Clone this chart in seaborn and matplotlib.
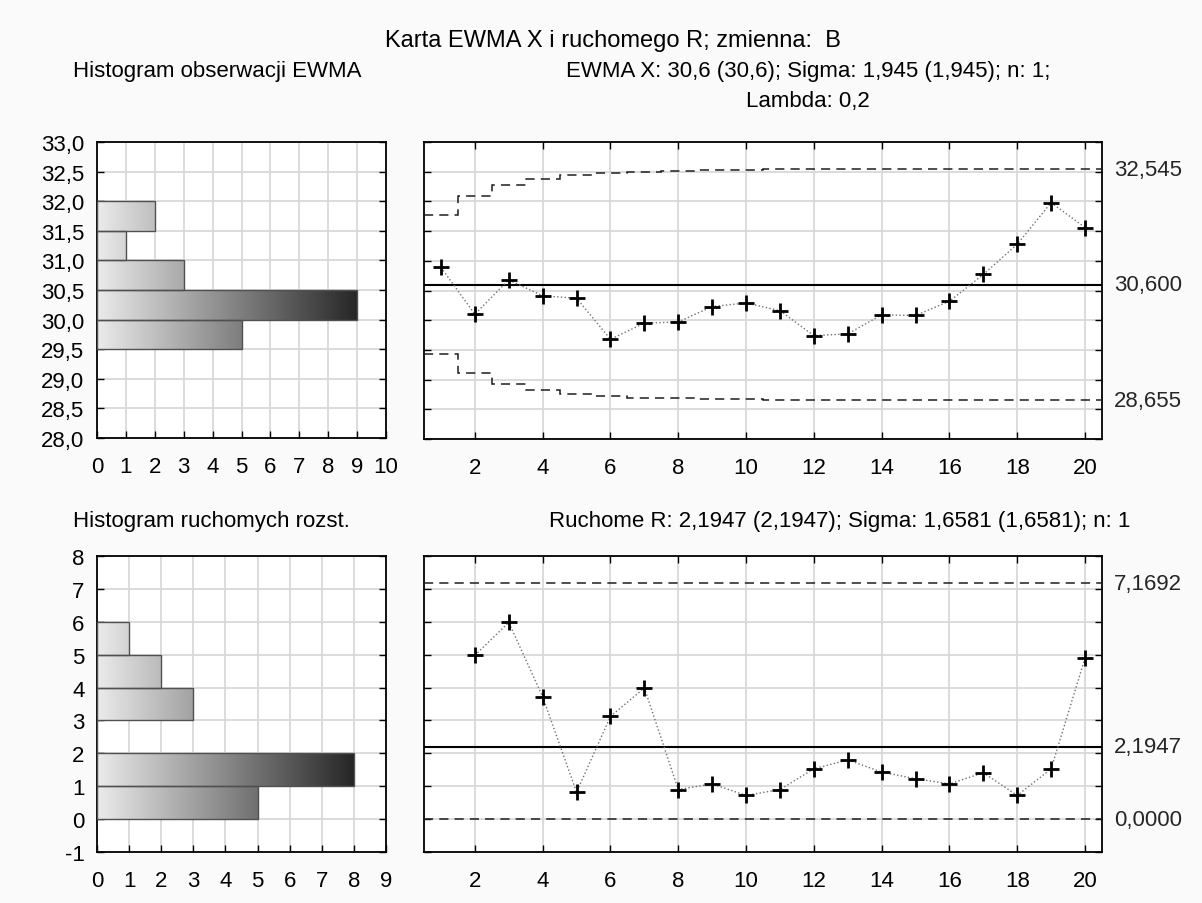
import numpy as np
import pandas as pd
import matplotlib
matplotlib.use("Agg")
import matplotlib.pyplot as plt
import matplotlib.transforms as mtransforms
from matplotlib.colors import LinearSegmentedColormap
import seaborn as sns

# ---------------- data ----------------
samples = list(range(1, 21))
ewma_values = [30.89, 30.10, 30.68, 30.41, 30.37, 29.68, 29.95, 29.97, 30.23, 30.29,
               30.16, 29.74, 29.77, 30.09, 30.08, 30.32, 30.77, 31.28, 31.98, 31.56]
ewma_center = 30.6
ewma_ucl = [31.767, 32.094, 32.271, 32.374, 32.438, 32.477, 32.502, 32.517, 32.527, 32.534,
            32.538, 32.540, 32.542, 32.543, 32.544, 32.545, 32.545, 32.545, 32.545, 32.545]
ewma_lcl = [29.433, 29.106, 28.929, 28.826, 28.762, 28.723, 28.698, 28.683, 28.673, 28.666,
            28.662, 28.660, 28.658, 28.657, 28.656, 28.655, 28.655, 28.655, 28.655, 28.655]
ewma_limit_labels = ["32,545", "30,600", "28,655"]
ewma_limit_values = [32.545, 30.600, 28.655]

mr_samples = list(range(2, 21))
mr_values = [4.98, 5.98, 3.72, 0.82, 3.12, 3.99, 0.90, 1.07, 0.72, 0.90,
             1.53, 1.80, 1.43, 1.23, 1.07, 1.41, 0.72, 1.53, 4.90]
mr_center = 2.1947
mr_ucl = 7.1692
mr_lcl = 0.0
mr_limit_labels = ["7,1692", "2,1947", "0,0000"]
mr_limit_values = [7.1692, 2.1947, 0.0]

hist1_centers = [29.75, 30.25, 30.75, 31.25, 31.75]
hist1_counts = [5, 9, 3, 1, 2]
hist2_centers = [0.5, 1.5, 2.5, 3.5, 4.5, 5.5]
hist2_counts = [5, 8, 0, 3, 2, 1]

title = "Karta EWMA X i ruchomego R; zmienna:  B"
hist1_title = "Histogram obserwacji EWMA"
chart1_title = "EWMA X: 30,6 (30,6); Sigma: 1,945 (1,945); n: 1;"
chart1_title2 = "Lambda: 0,2"
hist2_title = "Histogram ruchomych rozst."
chart2_title = "Ruchome R: 2,1947 (2,1947); Sigma: 1,6581 (1,6581); n: 1"

# ---------------- style ----------------
sns.set_theme(style="white")
plt.rcParams['font.family'] = ['Liberation Sans', 'DejaVu Sans']

W, H = 1202, 904
fig = plt.figure(figsize=(W / 100, H / 100), dpi=100, facecolor='#fafafa')

GRID = '#d9d9d9'
LIMIT = '#1e1e1e'
TICK_FS = 16
TXT_FS = 16
cmap = LinearSegmentedColormap.from_list('grad', ['#ebebeb', '#262626'])


def add_ax(l, r, t, b):
    return fig.add_axes([l / W, 1 - b / H, (r - l) / W, (b - t) / H])


def frame(ax):
    ax.set_facecolor('white')
    for s in ax.spines.values():
        s.set_visible(True)
        s.set_color('black')
        s.set_linewidth(1.3)


def fmt(v, nd):
    return f"{v:.{nd}f}".replace('.', ',')


def hist_panel(ax, centers, counts, xmax, ylim, ystep, ynd):
    df = pd.DataFrame({'center': centers, 'count': counts})
    sns.barplot(data=df, x='count', y='center', orient='y', native_scale=True,
                width=1.0, color='white', edgecolor='#505050', linewidth=1.0,
                errorbar=None, ax=ax, zorder=3)
    maxc = max(counts)
    for p in list(ax.patches):
        x0, y0, w, h = p.get_x(), p.get_y(), p.get_width(), p.get_height()
        p.set_facecolor('none')
        if w <= 0:
            continue
        grad = np.linspace(0, w / maxc, 256).reshape(1, -1)
        im = ax.imshow(grad, cmap=cmap, vmin=0, vmax=1, extent=[x0, x0 + w, y0, y0 + h],
                       aspect='auto', origin='lower', zorder=2.5, interpolation='bilinear')
        im.set_clip_path(p)
    ax.set_xlabel('')
    ax.set_ylabel('')
    ax.set_xlim(0, xmax)
    yt = np.arange(ylim[0], ylim[1] + ystep / 2, ystep)
    ax.set_yticks(yt)
    ax.set_yticklabels([fmt(v, ynd) for v in yt])
    ax.set_xticks(range(0, xmax + 1))
    ax.set_xticklabels([str(v) for v in range(0, xmax + 1)])
    ax.set_ylim(*ylim)
    ax.grid(True, color=GRID, lw=1.3)
    ax.set_axisbelow(True)
    ax.tick_params(direction='in', length=5, width=1, left=True, right=True,
                   bottom=True, top=False, labelsize=TICK_FS, colors='black')
    ax.tick_params(axis='y', pad=9)
    ax.tick_params(axis='x', pad=13)
    frame(ax)


def control_panel(ax, x, y, center, ylim, ystep, lab_vals, lab_txt):
    sns.lineplot(x=x, y=y, ax=ax, color='#707070', lw=1.0, linestyle=':',
                 marker='+', markersize=12, markeredgewidth=2.0,
                 markeredgecolor='black', markerfacecolor='black', zorder=5)
    ax.axhline(center, color='black', lw=1.5, zorder=4)
    ax.set_xlim(0.5, 20.5)
    ax.set_ylim(*ylim)
    ax.set_xticks(range(2, 21, 2))
    ax.set_xticklabels([str(v) for v in range(2, 21, 2)])
    ax.set_yticks(np.arange(ylim[0], ylim[1] + ystep / 2, ystep))
    ax.set_yticklabels([])
    ax.set_xlabel('')
    ax.set_ylabel('')
    ax.grid(True, color=GRID, lw=1.3)
    ax.set_axisbelow(True)
    ax.tick_params(direction='in', length=5, width=1, left=True, right=True,
                   bottom=True, top=True, labelsize=TICK_FS, colors='black')
    ax.tick_params(axis='x', pad=13)
    trans = mtransforms.blended_transform_factory(ax.transAxes, ax.transData)
    for v, t in zip(lab_vals, lab_txt):
        ax.text(1.018, v, t, transform=trans, ha='left', va='center', fontsize=TICK_FS)
    frame(ax)


# ---------------- panels ----------------
ax_h1 = add_ax(97, 386, 143, 439)
hist_panel(ax_h1, hist1_centers, hist1_counts, 10, (28.0, 33.0), 0.5, 1)

ax_c1 = add_ax(424, 1102, 143, 440)
control_panel(ax_c1, samples, ewma_values, ewma_center, (28.0, 33.0), 0.5,
              ewma_limit_values, ewma_limit_labels)
edges = np.arange(0.5, 21.0, 1.0)
ax_c1.stairs(ewma_ucl, edges, baseline=None, color=LIMIT, lw=1.1,
             linestyle=(0, (6, 4)), zorder=3)
ax_c1.stairs(ewma_lcl, edges, baseline=None, color=LIMIT, lw=1.1,
             linestyle=(0, (6, 4)), zorder=3)

ax_h2 = add_ax(97, 386, 557, 853)
hist_panel(ax_h2, hist2_centers, hist2_counts, 9, (-1, 8), 1, 0)

ax_c2 = add_ax(424, 1102, 557, 853)
control_panel(ax_c2, mr_samples, mr_values, mr_center, (-1, 8), 1,
              mr_limit_values, mr_limit_labels)
ax_c2.axhline(mr_ucl, color=LIMIT, lw=1.1, linestyle=(0, (6, 4)), zorder=3)
ax_c2.axhline(mr_lcl, color=LIMIT, lw=1.1, linestyle=(0, (6, 4)), zorder=3)

# ---------------- texts ----------------
def ftext(x, y, s, ha='left', fs=TXT_FS):
    fig.text(x / W, 1 - y / H, s, ha=ha, va='center', fontsize=fs, color='black')

ftext(613, 41, title, ha='center', fs=17)
ftext(73, 72, hist1_title)
ftext(808, 72, chart1_title, ha='center')
ftext(808, 102, chart1_title2, ha='center')
ftext(73, 522, hist2_title)
ftext(840, 522, chart2_title, ha='center')

fig.savefig('out.png', dpi=100, facecolor=fig.get_facecolor())
